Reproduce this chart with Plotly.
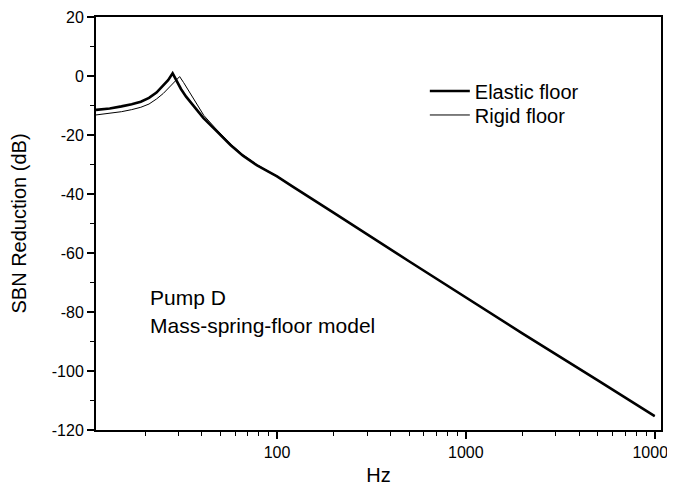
import math
import plotly.graph_objects as go

# ---- data ----
elastic_hz = [11, 13, 15, 17, 19, 21, 23, 25, 26.5, 28, 29.5, 31, 33, 36.5, 40.7, 47, 56.7, 66, 78, 90,
              100, 120, 150, 200, 500, 1000, 2000, 5000, 10000]
elastic_db = [-11.5, -11.0, -10.3, -9.6, -8.7, -7.4, -5.6, -3.3, -1.4, 0.9, -1.8, -4.4, -7.0, -10.6, -14.2,
              -18.2, -23.4, -27.0, -30.2, -32.4, -34.0, -37.3, -41.2, -46.4, -62.8, -75.2, -87.3, -103.2, -115.3]

rigid_hz = [11, 13, 15, 17, 19, 21, 23, 25, 27, 29, 30.5, 32, 34.7, 37, 41, 47, 56.7, 66, 78, 90,
            100, 120, 150, 200, 500, 1000, 2000, 5000, 10000]
rigid_db = [-13.2, -12.7, -12.1, -11.4, -10.6, -9.5, -7.8, -5.9, -3.7, -1.5, -0.2, -2.2, -5.9, -9.0, -13.4,
            -17.6, -23.0, -26.7, -30.0, -32.3, -33.9, -37.3, -41.2, -46.4, -62.8, -75.2, -87.3, -103.2, -115.3]

x_tickvals = [100, 1000, 10000]
x_ticktext = ["100", "1000", "10000"]
x_minor = [20, 30, 40, 50, 60, 70, 80, 90,
           200, 300, 400, 500, 600, 700, 800, 900,
           2000, 3000, 4000, 5000, 6000, 7000, 8000, 9000]
y_tickvals = [20, 0, -20, -40, -60, -80, -100, -120]
y_ticktext = ["20", "0", "-20", "-40", "-60", "-80", "-100", "-120"]

series_names = ["Elastic floor", "Rigid floor"]
note_lines = ["Pump D", "Mass-spring-floor model"]

FONT = "Liberation Sans, Arial, sans-serif"

fig = go.Figure()
fig.add_trace(go.Scatter(x=elastic_hz, y=elastic_db, mode="lines", name=series_names[0],
                         line=dict(color="black", width=2.6), legend="legend"))
fig.add_trace(go.Scatter(x=rigid_hz, y=rigid_db, mode="lines", name=series_names[1],
                         line=dict(color="black", width=1), legend="legend2"))

legend_common = dict(xanchor="left", yanchor="top", bgcolor="rgba(0,0,0,0)",
                     font=dict(size=20, family=FONT), itemwidth=40)

fig.update_layout(
    width=675, height=493,
    margin=dict(l=88, r=22, t=9, b=71, autoexpand=False),
    paper_bgcolor="white", plot_bgcolor="white",
    font=dict(family=FONT, color="black"),
    showlegend=True,
    legend=dict(x=0.582, y=0.868, **legend_common),
    legend2=dict(x=0.582, y=0.81, **legend_common),
)

fig.update_xaxes(
    type="log", range=[math.log10(11), math.log10(10800)],
    tickvals=x_tickvals, ticktext=x_ticktext,
    ticks="outside", ticklen=7, tickwidth=1.5, tickcolor="black",
    minor=dict(tickvals=x_minor, ticks="outside", ticklen=4, tickwidth=1.2, tickcolor="black"),
    showline=True, linecolor="black", linewidth=2, mirror=True,
    showgrid=False, zeroline=False, automargin=False,
    ticklabeloverflow="allow",
    tickfont=dict(size=16, family=FONT),
    title=dict(text="Hz", font=dict(size=20, family=FONT), standoff=8),
)
fig.update_yaxes(
    range=[-120, 20],
    tickvals=y_tickvals, ticktext=y_ticktext,
    ticks="outside", ticklen=7, tickwidth=1.5, tickcolor="black",
    minor=dict(dtick=10, ticks="outside", ticklen=4, tickwidth=1.2, tickcolor="black", showgrid=False),
    showline=True, linecolor="black", linewidth=2, mirror=True,
    showgrid=False, zeroline=False, automargin=False,
    ticklabeloverflow="allow",
    tickfont=dict(size=16, family=FONT),
    title=dict(text="SBN Reduction (dB)", font=dict(size=20, family=FONT), standoff=22),
)

fig.add_annotation(x=0.092, y=0.32, xref="paper", yref="paper", xanchor="left", yanchor="middle",
                   text=note_lines[0], showarrow=False, font=dict(size=21, family=FONT))
fig.add_annotation(x=0.092, y=0.254, xref="paper", yref="paper", xanchor="left", yanchor="middle",
                   text=note_lines[1], showarrow=False, font=dict(size=21, family=FONT))

fig.write_html("out.html")
